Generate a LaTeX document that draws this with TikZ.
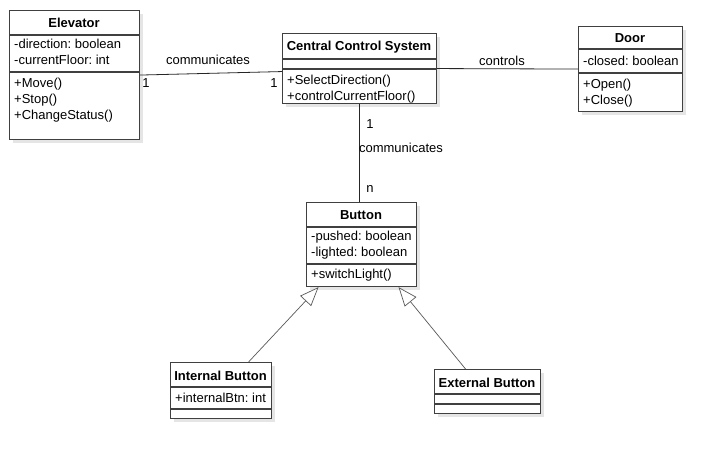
\documentclass[tikz,border=0pt]{standalone}
\usepackage{fontspec}
\setmainfont{Liberation Sans}
\usetikzlibrary{arrows.meta,positioning,shadows}
\frenchspacing

\begin{document}
\begin{tikzpicture}[x=1pt, y=-1pt,
  cls/.style={draw=black!75, line width=1.1pt, fill=white, anchor=north west,
              inner sep=0pt, drop shadow={shadow xshift=3pt, shadow yshift=-3pt,
              fill=black!10, opacity=1}},
  ttl/.style={font=\fontsize{13}{16}\selectfont\bfseries, anchor=base, inner sep=0pt},
  mem/.style={font=\fontsize{13}{16}\selectfont, align=left, anchor=north west, inner sep=0pt},
  sepl/.style={draw=black!75, line width=1.1pt},
  assoc/.style={draw=black!85, line width=0.8pt},
  gen/.style={draw=black!65, line width=0.7pt,
              -{Triangle[open, length=19pt, width=15pt, fill=white]}},
  lbl/.style={font=\fontsize{13}{16}\selectfont, anchor=base, inner sep=0pt}]

\useasboundingbox (0,0) rectangle (722,459);
\fill[white] (0,0) rectangle (722,459);

% Elevator
\node[cls, minimum width=130pt, minimum height=129pt] (elev) at (9,10) {};
\draw[sepl] (elev.west |- 0,35) -- (elev.east |- 0,35);
\draw[sepl] (elev.west |- 0,72) -- (elev.east |- 0,72);
\node[ttl] (elevT) at (74,27) {Elevator};
\node[mem] (elevA) at (14,38.5) {-direction: boolean\\-currentFloor: int};
\node[mem] (elevM) at (14,77.5) {+Move()\\+Stop()\\+ChangeStatus()};

% Central Control System
\node[cls, minimum width=154pt, minimum height=70pt] (ccs) at (282,33) {};
\draw[sepl] (ccs.west |- 0,59) -- (ccs.east |- 0,59);
\draw[sepl] (ccs.west |- 0,69) -- (ccs.east |- 0,69);
\node[ttl] (ccsT) at (359,50) {Central Control System};
\node[mem] (ccsM) at (287,74.5) {+SelectDirection()\\+controlCurrentFloor()};

% Door
\node[cls, minimum width=104pt, minimum height=85pt] (door) at (578,26) {};
\draw[sepl] (door.west |- 0,49) -- (door.east |- 0,49);
\draw[sepl] (door.west |- 0,73) -- (door.east |- 0,73);
\node[ttl] (doorT) at (630,42) {Door};
\node[mem] (doorA) at (583,55.5) {-closed: boolean};
\node[mem] (doorM) at (583,78.5) {+Open()\\+Close()};

% Button
\node[cls, minimum width=110pt, minimum height=84pt] (btn) at (306,202) {};
\draw[sepl] (btn.west |- 0,227) -- (btn.east |- 0,227);
\draw[sepl] (btn.west |- 0,264) -- (btn.east |- 0,264);
\node[ttl] (btnT) at (361,219) {Button};
\node[mem] (btnA) at (311,230.5) {-pushed: boolean\\-lighted: boolean};
\node[mem] (btnM) at (311,268.5) {+switchLight()};

% Internal Button
\node[cls, minimum width=101pt, minimum height=56pt] (ibtn) at (170,362) {};
\draw[sepl] (ibtn.west |- 0,387) -- (ibtn.east |- 0,387);
\draw[sepl] (ibtn.west |- 0,409) -- (ibtn.east |- 0,409);
\node[ttl] (ibtnT) at (220.5,380) {Internal Button};
\node[mem] (ibtnA) at (175,392.5) {+internalBtn: int};

% External Button
\node[cls, minimum width=106pt, minimum height=44pt] (ebtn) at (434,369) {};
\draw[sepl] (ebtn.west |- 0,394) -- (ebtn.east |- 0,394);
\draw[sepl] (ebtn.west |- 0,404) -- (ebtn.east |- 0,404);
\node[ttl] (ebtnT) at (487,387) {External Button};

% associations
\draw[assoc] (elev.east) -- ([yshift=-3pt]ccs.west);
\node[lbl] at (208,64) {communicates};
\node[lbl] at (146,87) {1};
\node[lbl] at (274,87) {1};
\draw[assoc] (ccs.east) -- (door.west);
\node[lbl] at (502,65) {controls};
\draw[assoc] (ccs.south) -- (ccs.south |- btn.north);
\node[lbl] at (370,128) {1};
\node[lbl] at (401,152) {communicates};
\node[lbl] at (370,192) {n};

% generalisation
\draw[gen] ([xshift=27.5pt]ibtn.north) -- ([xshift=-43pt]btn.south);
\draw[gen] ([xshift=-22pt]ebtn.north) -- ([xshift=37pt]btn.south);
\end{tikzpicture}
\end{document}
